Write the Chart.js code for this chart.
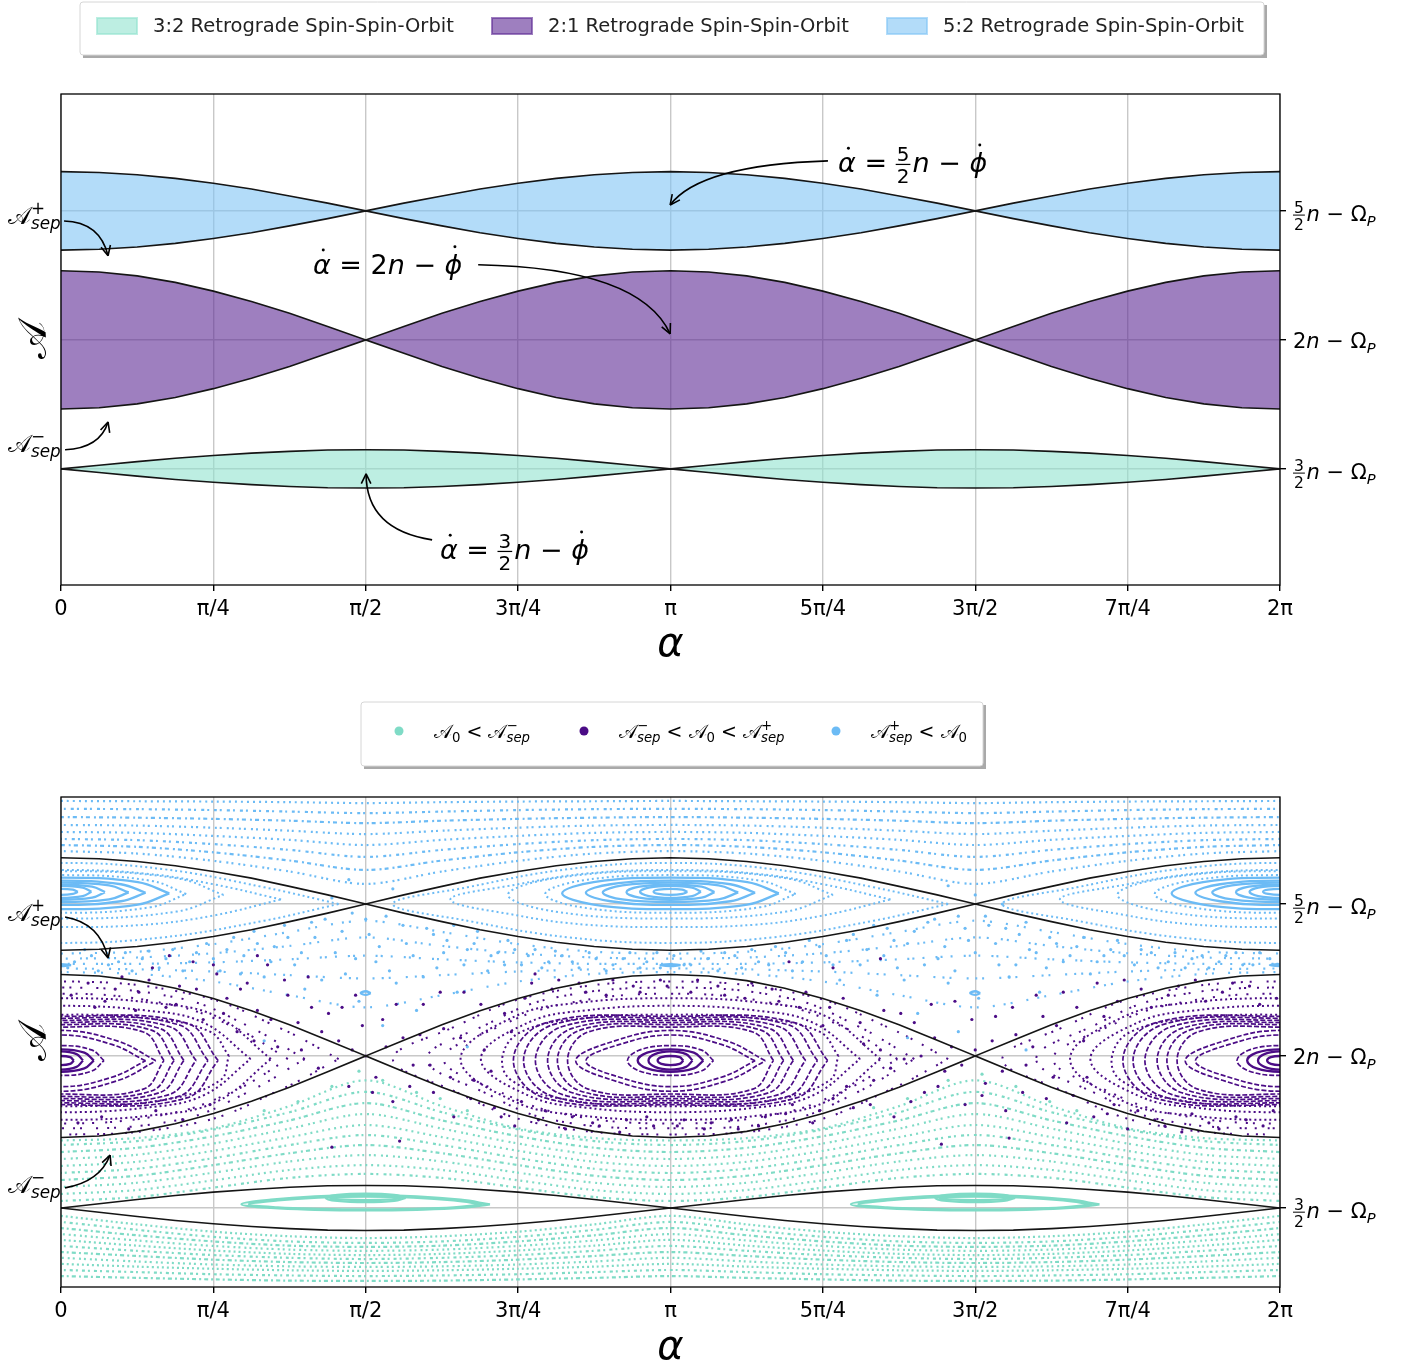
<!DOCTYPE html>
<html lang="en">
<head>
<meta charset="UTF-8">
<title>Retrograde spin-spin-orbit resonances</title>
<script src="https://cdn.jsdelivr.net/npm/chart.js@4.4.1/dist/chart.umd.min.js"></script>
<style>
  body { margin: 0; background: #fff; }
  #wrapTop { position: absolute; left: 0; top: 0; width: 1418px; height: 670px; }
  #wrapBottom { position: absolute; left: 0; top: 670px; width: 1418px; height: 695px; }
</style>
</head>
<body>
<div id="wrapTop"><canvas id="topChart"></canvas></div>
<div id="wrapBottom"><canvas id="bottomChart"></canvas></div>
<script>
const FONT = "'DejaVu Sans', sans-serif";

// alpha in degrees, labelled in multiples of pi
const xTickVals = [0, 45, 90, 135, 180, 225, 270, 315, 360];
const xTickLabels = ['0', 'π/4', 'π/2', '3π/4', 'π', '5π/4', '3π/2', '7π/4', '2π'];
const yTickVals = [1.5, 2, 2.5];
const yTickLabels = ['3/2', '2', '5/2'];

// separatrices of the three resonances (A in units of n)
const alphaGrid = [0, 11.25, 22.5, 33.75, 45, 56.25, 67.5, 78.75, 90, 101.25, 112.5, 123.75, 135, 146.25, 157.5, 168.75, 180,
  191.25, 202.5, 213.75, 225, 236.25, 247.5, 258.75, 270, 281.25, 292.5, 303.75, 315, 326.25, 337.5, 348.75, 360];
const sep32Lower = [1.500,1.486,1.472,1.459,1.448,1.439,1.432,1.427,1.426,1.427,1.432,1.439,1.448,1.459,1.472,1.486,1.500,1.486,1.472,1.459,1.448,1.439,1.432,1.427,1.426,1.427,1.432,1.439,1.448,1.459,1.472,1.486,1.500];
const sep32Upper = [1.500,1.514,1.528,1.541,1.552,1.561,1.568,1.573,1.574,1.573,1.568,1.561,1.552,1.541,1.528,1.514,1.500,1.514,1.528,1.541,1.552,1.561,1.568,1.573,1.574,1.573,1.568,1.561,1.552,1.541,1.528,1.514,1.500];
const sep21Lower = [1.732,1.737,1.752,1.777,1.811,1.851,1.897,1.948,2.000,1.948,1.897,1.851,1.811,1.777,1.752,1.737,1.732,1.737,1.752,1.777,1.811,1.851,1.897,1.948,2.000,1.948,1.897,1.851,1.811,1.777,1.752,1.737,1.732];
const sep21Upper = [2.268,2.263,2.248,2.223,2.189,2.149,2.103,2.052,2.000,2.052,2.103,2.149,2.189,2.223,2.248,2.263,2.268,2.263,2.248,2.223,2.189,2.149,2.103,2.052,2.000,2.052,2.103,2.149,2.189,2.223,2.248,2.263,2.268];
const sep52Lower = [2.348,2.351,2.360,2.374,2.393,2.415,2.442,2.470,2.500,2.470,2.442,2.415,2.393,2.374,2.360,2.351,2.348,2.351,2.360,2.374,2.393,2.415,2.442,2.470,2.500,2.470,2.442,2.415,2.393,2.374,2.360,2.351,2.348];
const sep52Upper = [2.652,2.649,2.640,2.626,2.607,2.585,2.558,2.530,2.500,2.530,2.558,2.585,2.607,2.626,2.640,2.649,2.652,2.649,2.640,2.626,2.607,2.585,2.558,2.530,2.500,2.530,2.558,2.585,2.607,2.626,2.640,2.649,2.652];
const bandNames = ['3:2 Retrograde Spin-Spin-Orbit', '2:1 Retrograde Spin-Spin-Orbit', '5:2 Retrograde Spin-Spin-Orbit'];

// Poincare section. Curves are pi-periodic in alpha.
const rowAlpha = [0, 22.5, 45, 67.5, 90, 112.5, 135, 157.5, 180];
const blueRows = [
  [2.839,2.838,2.837,2.835,2.832,2.835,2.837,2.838,2.839],
  [2.813,2.812,2.809,2.804,2.799,2.804,2.809,2.812,2.813],
  [2.786,2.784,2.780,2.774,2.766,2.774,2.780,2.784,2.786],
  [2.760,2.758,2.751,2.741,2.730,2.741,2.751,2.758,2.760],
  [2.737,2.734,2.724,2.711,2.694,2.711,2.724,2.734,2.737],
  [2.714,2.710,2.697,2.678,2.655,2.678,2.697,2.710,2.714],
  [2.694,2.688,2.670,2.643,2.612,2.643,2.670,2.688,2.694],
  [2.674,2.666,2.642,2.607,2.566,2.607,2.642,2.666,2.674]
];
// chaotic layer between the 5:2 and 2:1 separatrices
const blueChaosRows = [
  [2.337,2.343,2.368,2.408,2.445,2.408,2.368,2.343,2.337],
  [2.320,2.324,2.338,2.362,2.390,2.362,2.338,2.324,2.320],
  [2.303,2.303,2.308,2.318,2.330,2.318,2.308,2.303,2.303],
  [2.288,2.285,2.278,2.266,2.255,2.266,2.278,2.285,2.288],
  [2.276,2.270,2.245,2.200,2.160,2.200,2.245,2.270,2.276]
];
const tealMidRows = [
  [1.722,1.730,1.762,1.835,1.920,1.835,1.762,1.730,1.722],
  [1.707,1.720,1.758,1.815,1.882,1.815,1.758,1.720,1.707],
  [1.684,1.698,1.736,1.788,1.845,1.788,1.736,1.698,1.684],
  [1.661,1.675,1.712,1.761,1.809,1.761,1.712,1.675,1.661],
  [1.638,1.652,1.688,1.733,1.773,1.733,1.688,1.652,1.638],
  [1.615,1.629,1.664,1.707,1.740,1.707,1.664,1.629,1.615],
  [1.592,1.606,1.641,1.680,1.707,1.680,1.641,1.606,1.592],
  [1.569,1.583,1.616,1.653,1.674,1.653,1.616,1.583,1.569],
  [1.546,1.559,1.591,1.625,1.641,1.625,1.591,1.559,1.546],
  [1.523,1.536,1.567,1.599,1.612,1.599,1.567,1.536,1.523]
];
const tealLowRows = [
  [1.474,1.446,1.422,1.407,1.401,1.407,1.422,1.446,1.474],
  [1.454,1.428,1.405,1.390,1.385,1.390,1.405,1.428,1.454],
  [1.434,1.410,1.390,1.376,1.372,1.376,1.390,1.410,1.434],
  [1.414,1.393,1.375,1.363,1.359,1.363,1.375,1.393,1.414],
  [1.395,1.376,1.360,1.349,1.345,1.349,1.360,1.376,1.395],
  [1.375,1.359,1.345,1.336,1.332,1.336,1.345,1.359,1.375],
  [1.355,1.342,1.330,1.322,1.319,1.322,1.330,1.342,1.355],
  [1.336,1.324,1.314,1.308,1.306,1.308,1.314,1.324,1.336],
  [1.316,1.307,1.300,1.295,1.293,1.295,1.300,1.307,1.316],
  [1.296,1.289,1.282,1.278,1.276,1.278,1.282,1.289,1.296],
  [1.276,1.270,1.265,1.261,1.260,1.261,1.265,1.270,1.276]
];

// island orbits around alpha = pi (5:2 and 2:1) and alpha = pi/2 (3:2)
const blueRings = [
  [[185,2.540],[183.5,2.547],[180,2.550],[176.5,2.547],[175,2.540],[176.5,2.533],[180,2.530],[183.5,2.533]],
  [[189,2.540],[186.4,2.554],[180,2.560],[173.6,2.554],[171,2.540],[173.6,2.526],[180,2.520],[186.4,2.526]],
  [[193,2.539],[189.2,2.557],[180,2.564],[170.8,2.557],[167,2.539],[170.8,2.521],[180,2.514],[189.2,2.521]],
  [[200,2.538],[194.2,2.561],[180,2.570],[165.8,2.561],[160,2.538],[165.8,2.515],[180,2.506],[194.2,2.515]],
  [[205,2.537],[197.7,2.565],[180,2.577],[162.3,2.565],[155,2.537],[162.3,2.509],[180,2.497],[197.7,2.509]],
  [[212,2.535],[202.7,2.572],[180,2.587],[157.3,2.572],[148,2.535],[157.3,2.498],[180,2.483],[202.7,2.498]],
  [[217,2.533],[206.3,2.577],[180,2.595],[153.7,2.577],[143,2.533],[153.7,2.489],[180,2.471],[206.3,2.489]],
  [[228,2.530],[214.1,2.585],[180,2.608],[145.9,2.585],[132,2.530],[145.9,2.475],[180,2.452],[214.1,2.475]],
  [[245,2.515],[225,2.565],[205,2.600],[180,2.612],[155,2.600],[135,2.565],[115,2.515],[135,2.462],[155,2.432],[180,2.424],[205,2.432],[225,2.462]],
  [[262,2.500],[240,2.555],[210,2.615],[180,2.635],[150,2.615],[120,2.555],[98,2.500],[120,2.445],[150,2.390],[180,2.372],[210,2.390],[240,2.445]]
];
const purpleRings = [
  [[183.8,1.985],[182.7,1.996],[180,2.000],[177.3,1.996],[176.2,1.985],[177.3,1.974],[180,1.970],[182.7,1.974]],
  [[186.5,1.985],[184.6,2.006],[180,2.015],[175.4,2.006],[173.5,1.985],[175.4,1.964],[180,1.955],[184.6,1.964]],
  [[189.7,1.985],[186.9,2.011],[180,2.022],[173.1,2.011],[170.3,1.985],[173.1,1.959],[180,1.948],[186.9,1.959]],
  [[192.7,1.985],[189,2.020],[180,2.034],[171,2.020],[167.3,1.985],[171,1.950],[180,1.936],[189,1.950]],
  [[205,1.984],[195,2.038],[180,2.069],[165,2.038],[155,1.984],[165,1.930],[180,1.899],[195,1.930]],
  [[208,1.984],[197,2.048],[180,2.084],[163,2.048],[152,1.984],[163,1.920],[180,1.884],[197,1.920]],
  [[210.4,1.985],[204.3,2.079],[180,2.095],[155.7,2.079],[149.6,1.985],[155.7,1.891],[180,1.875],[204.3,1.891]],
  [[213.4,1.985],[206.7,2.085],[180,2.103],[153.3,2.085],[146.6,1.985],[153.3,1.885],[180,1.867],[206.7,1.885]],
  [[216.3,1.985],[209,2.091],[180,2.110],[151,2.091],[143.7,1.985],[151,1.879],[180,1.860],[209,1.879]],
  [[219.9,1.985],[211.9,2.097],[180,2.117],[148.1,2.097],[140.1,1.985],[148.1,1.873],[180,1.853],[211.9,1.873]],
  [[223.4,1.985],[214.7,2.103],[180,2.124],[145.3,2.103],[136.6,1.985],[145.3,1.867],[180,1.846],[214.7,1.867]],
  [[226.4,1.985],[217.1,2.108],[180,2.130],[142.9,2.108],[133.6,1.985],[142.9,1.862],[180,1.840],[217.1,1.862]],
  [[229.6,2.000],[224,2.080],[205,2.125],[180,2.136],[155,2.125],[136,2.080],[130.4,2.000],[133,1.920],[150,1.855],[180,1.835],[210,1.855],[227,1.920]],
  [[236,1.990],[222,2.110],[205,2.150],[180,2.165],[155,2.150],[138,2.110],[124,1.990],[138,1.870],[155,1.830],[180,1.815],[205,1.830],[222,1.870]],
  [[242,1.990],[226,2.130],[207,2.175],[180,2.190],[153,2.175],[134,2.130],[118,1.990],[134,1.850],[153,1.805],[180,1.790],[207,1.805],[226,1.850]]
];
// chaotic layer just inside the 2:1 separatrix
const purpleChaosRings = [
  [[252,1.990],[235,2.100],[215,2.190],[180,2.225],[145,2.190],[125,2.100],[108,1.990],[125,1.880],[145,1.790],[180,1.762],[215,1.790],[235,1.880]],
  [[262,1.990],[245,2.090],[220,2.200],[180,2.245],[140,2.200],[115,2.090],[98,1.990],[115,1.890],[140,1.780],[180,1.742],[220,1.780],[245,1.890]],
  [[247,1.990],[232,2.090],[212,2.170],[180,2.205],[148,2.170],[128,2.090],[113,1.990],[128,1.890],[148,1.810],[180,1.778],[212,1.810],[232,1.890]]
];
const tealRings = [
  [[101.8,1.533],[98.4,1.543],[90,1.547],[81.6,1.543],[78.2,1.533],[81.6,1.523],[90,1.519],[98.4,1.523]],
  [[100.5,1.533],[97.5,1.538],[90,1.540],[82.5,1.538],[79.5,1.533],[82.5,1.528],[90,1.526],[97.5,1.528]],
  [[126.7,1.512],[118,1.527],[105,1.538],[90,1.542],[75,1.538],[62,1.527],[53.3,1.512],[62,1.500],[75,1.494],[90,1.492],[105,1.494],[118,1.500]],
  [[124.5,1.512],[116,1.525],[104,1.534],[90,1.537],[76,1.534],[64,1.525],[55.5,1.512],[64,1.502],[76,1.497],[90,1.495],[104,1.497],[116,1.502]]
];
// small secondary islands of the blue orbits
const blueSmallIslands = [
  [[183,2.299],[180,2.302],[177,2.299],[180,2.296]],
  [[91.5,2.207],[90,2.213],[88.5,2.207],[90,2.201]]
];

// chaotic orbits (scattered points)
const blueChaos = [[4,2.31],[9,2.33],[14,2.30],[19,2.34],[24,2.32],[29,2.29],[33,2.35],[38,2.31],[43,2.37],[47,2.28],
  [51,2.39],[54,2.33],[57,2.41],[60,2.26],[63,2.36],[66,2.43],[69,2.30],[72,2.22],[75,2.39],[78,2.45],
  [81,2.34],[84,2.27],[86,2.47],[88,2.18],[91,2.40],[93,2.31],[96,2.46],[99,2.24],[102,2.37],[105,2.15],
  [108,2.42],[111,2.29],[114,2.38],[117,2.21],[120,2.35],[123,2.41],[126,2.28],[129,2.34],[132,2.38],[136,2.30],
  [140,2.35],[144,2.31],[148,2.33],[153,2.29],[158,2.32],[163,2.30],[168,2.34],[173,2.31],[177,2.29],[181,2.33],
  [186,2.30],[191,2.32],[196,2.34],[201,2.29],[206,2.31],[211,2.36],[216,2.28],[221,2.38],[226,2.33],[230,2.25],
  [234,2.40],[238,2.35],[241,2.20],[244,2.42],[247,2.29],[250,2.37],[253,2.14],[256,2.44],[259,2.32],[262,2.24],
  [265,2.46],[268,2.38],[271,2.19],[274,2.43],[277,2.30],[280,2.26],[283,2.40],[286,2.35],[289,2.21],[292,2.39],
  [296,2.31],[300,2.36],[304,2.27],[308,2.33],[312,2.38],[317,2.30],[322,2.34],[327,2.31],[332,2.29],[337,2.33],
  [342,2.31],[347,2.34],[352,2.30],[357,2.32],[80,2.52],[98,2.55],[85,2.58],[270,2.53],[262,2.56],[278,2.50],
  [95,2.10],[265,2.08],[60,2.05],[120,2.03],[250,2.06],[285,2.02],
  [2,2.29],[7,2.35],[11,2.28],[17,2.31],[21,2.28],[26,2.345],[31,2.32],[36,2.28],[40,2.34],[45,2.32],
  [49,2.35],[53,2.27],[58,2.37],[62,2.31],[67,2.39],[71,2.34],[74,2.44],[77,2.25],[83,2.41],[87,2.32],
  [90,2.45],[94,2.36],[97,2.28],[101,2.43],[104,2.33],[107,2.26],[110,2.40],[113,2.34],[116,2.43],[119,2.30],
  [122,2.37],[127,2.33],[131,2.30],[134,2.35],[138,2.33],[142,2.29],[146,2.345],[151,2.31],[156,2.34],[161,2.28],
  [166,2.32],[171,2.29],[176,2.34],[184,2.30],[189,2.345],[194,2.28],[199,2.33],[204,2.35],[209,2.30],[214,2.34],
  [219,2.31],[224,2.36],[228,2.30],[232,2.38],[236,2.30],[240,2.43],[243,2.33],[246,2.38],[249,2.25],[252,2.41],
  [255,2.30],[258,2.45],[261,2.36],[264,2.28],[267,2.42],[270,2.34],[273,2.46],[276,2.37],[279,2.42],[282,2.30],
  [285,2.44],[288,2.34],[291,2.29],[294,2.37],[298,2.33],[302,2.39],[306,2.31],[310,2.35],[314,2.33],[319,2.35],
  [324,2.29],[329,2.34],[334,2.32],[339,2.29],[344,2.33],[349,2.30],[354,2.34],[359,2.30]];
const purpleChaos = [[3,2.20],[8,2.24],[13,2.18],[18,2.26],[23,2.21],[27,2.29],[31,2.16],[35,2.23],[39,2.31],[42,2.12],
  [46,2.27],[49,2.19],[52,2.08],[55,2.24],[58,2.15],[61,2.30],[64,2.03],[67,2.20],[70,2.11],[73,2.26],
  [76,1.96],[79,2.14],[82,2.05],[85,1.90],[87,2.20],[90,2.00],[93,1.93],[95,2.12],[98,1.85],[101,2.06],
  [104,1.97],[107,2.17],[110,1.88],[113,2.09],[116,1.80],[119,2.21],[122,1.92],[125,2.02],[128,1.83],[131,2.14],
  [134,1.77],[137,2.19],[141,1.79],[145,2.22],[149,1.76],[153,2.24],[157,1.78],[161,2.20],[165,1.75],[169,2.23],
  [173,1.80],[177,2.25],[182,1.77],[186,2.21],[190,1.76],[194,2.23],[198,1.79],[202,2.19],[206,1.77],[210,2.22],
  [214,1.81],[218,2.16],[222,1.78],[225,2.10],[228,1.86],[231,2.19],[234,1.83],[237,2.04],[240,1.92],[243,2.15],
  [246,1.80],[249,1.99],[252,2.11],[255,1.88],[258,2.06],[261,1.95],[264,2.18],[267,1.84],[270,2.02],[273,1.91],
  [276,2.13],[279,1.82],[282,2.07],[285,1.97],[288,2.20],[291,1.86],[294,2.10],[297,1.78],[300,2.16],[303,1.93],
  [306,2.24],[309,1.81],[312,2.18],[315,1.76],[319,2.22],[323,1.79],[327,2.20],[331,1.75],[335,2.25],[339,1.78],
  [343,2.21],[347,1.80],[351,2.23],[355,1.77],[359,2.19],[5,1.78],[12,1.80],[20,1.76],[28,1.82],[36,1.79],
  [44,1.84],[140,2.27],[32,2.33],[45,2.30],[58,2.33],[215,2.31],[228,2.29],[242,2.32],[100,1.72],[80,1.70],
  [260,1.71],[280,1.73],
  [10,2.16],[16,2.22],[22,2.15],[26,2.25],[34,2.17],[40,2.22],[48,2.14],[53,2.22],[57,2.05],[62,2.12],
  [66,2.25],[71,2.02],[74,2.16],[77,2.08],[83,2.16],[86,2.02],[89,2.10],[92,1.88],[96,2.03],[99,2.17],
  [103,1.90],[106,2.07],[109,1.97],[112,2.21],[115,1.93],[118,2.06],[121,1.86],[124,2.17],[127,1.95],[130,1.80],
  [133,2.08],[136,1.85],[139,2.24],[143,1.82],[147,2.25],[151,1.80],[155,2.21],[159,1.77],[163,2.25],[167,1.79],
  [171,2.21],[175,1.77],[179,2.23],[184,1.79],[188,2.25],[192,1.78],[196,2.20],[200,1.76],[204,2.24],[208,1.80],
  [212,2.18],[216,1.84],[220,2.21],[224,1.82],[227,2.16],[232,1.90],[236,2.11],[239,1.84],[242,2.02],[245,1.96],
  [248,2.14],[251,1.85],[254,2.00],[257,2.17],[259,1.90],[263,2.03],[266,1.97],[269,2.12],[272,1.87],[275,2.05],
  [278,1.95],[281,2.16],[284,1.88],[287,2.03],[290,2.13],[293,1.93],[296,2.21],[299,1.87],[302,2.05],[305,1.80],
  [308,2.13],[311,1.84],[314,2.25],[318,1.82],[322,2.16],[326,1.77],[330,2.23],[334,1.81],[338,2.18],[342,1.76],
  [346,2.24],[350,1.79],[354,2.17],[358,1.82]];
const tealChaos = [[70,1.85],[80,1.90],[88,1.95],[95,1.92],[105,1.88],[112,1.86],[250,1.86],[262,1.92],[272,1.94],
  [282,1.90],[292,1.85],[60,1.82],[120,1.82],[240,1.83],[300,1.82]];

const C_TEAL = '#7fdbc6', C_PURPLE = '#4b0c86', C_BLUE = '#6cbbf5';
const FILL_TEAL = 'rgba(145,227,207,0.6)';
const FILL_PURPLE = 'rgba(93,42,148,0.6)';
const FILL_BLUE = 'rgba(128,197,245,0.6)';

// ---------- math text helper ----------
function drawMath(ctx, toks, x, y, size) {
  let cx = x;
  ctx.save();
  ctx.textBaseline = 'alphabetic';
  ctx.textAlign = 'left';
  ctx.fillStyle = '#000';
  for (const t of toks) {
    if (t.f) {
      const fs = size * 0.74;
      ctx.font = fs + 'px ' + FONT;
      const w = Math.max(ctx.measureText(t.f[0]).width, ctx.measureText(t.f[1]).width) + 2;
      ctx.textAlign = 'center';
      ctx.fillText(t.f[0], cx + w / 2, y - size * 0.39);
      ctx.fillText(t.f[1], cx + w / 2, y + size * 0.42);
      ctx.fillRect(cx, y - size * 0.3, w, Math.max(1, size * 0.045));
      ctx.textAlign = 'left';
      cx += w + size * 0.08;
    } else if (t.sub !== undefined || t.sup !== undefined) {
      const fs = size * 0.7;
      let w = 0;
      if (t.sup) {
        ctx.font = fs + 'px ' + FONT;
        w = Math.max(w, ctx.measureText(t.sup).width);
        ctx.fillText(t.sup, cx, y - size * 0.42);
      }
      if (t.sub) {
        ctx.font = (t.si ? 'italic ' : '') + fs + 'px ' + FONT;
        w = Math.max(w, ctx.measureText(t.sub).width);
        ctx.fillText(t.sub, cx, y + size * 0.22);
      }
      cx += w;
    } else {
      ctx.font = (t.i ? 'italic ' : '') + size + 'px ' + FONT;
      const w = ctx.measureText(t.s).width;
      ctx.fillText(t.s, cx, y);
      if (t.dot) {
        ctx.beginPath();
        ctx.arc(cx + w * 0.58, y - size * t.dot, size * 0.055, 0, Math.PI * 2);
        ctx.fill();
      }
      cx += w;
    }
  }
  ctx.restore();
  return cx - x;
}

const SCRIPT_A = '𝒜';
const aSep = sign => [{ s: SCRIPT_A }, { sub: 'sep', si: true, sup: sign }];
const resonanceText = frac => [{ s: 'α', i: true, dot: 0.88 }, { s: ' = ' }].concat(
  frac.includes('/') ? [{ f: frac.split('/') }] : [{ s: frac }],
  [{ s: 'n', i: true }, { s: ' − ' }, { s: 'ϕ', i: true, dot: 1.0 }]);
const tickTokens = lab => (lab.includes('/') ? [{ f: lab.split('/') }] : [{ s: lab }])
  .concat([{ s: 'n', i: true }, { s: ' − Ω' }, { sub: 'P', si: true }]);

// ---------- decorations (frame, right labels, axis titles, arrows, legends) ----------
function arrow(ctx, chart, a) {
  const X = v => chart.scales.x.getPixelForValue(v);
  const Y = v => chart.scales.y.getPixelForValue(v);
  const p0 = [X(a.from[0]), Y(a.from[1])], pc = [X(a.via[0]), Y(a.via[1])], p1 = [X(a.to[0]), Y(a.to[1])];
  ctx.save();
  ctx.strokeStyle = '#000';
  ctx.lineWidth = 1.6;
  ctx.beginPath();
  ctx.moveTo(p0[0], p0[1]);
  ctx.quadraticCurveTo(pc[0], pc[1], p1[0], p1[1]);
  ctx.stroke();
  const ang = Math.atan2(p1[1] - pc[1], p1[0] - pc[0]);
  ctx.beginPath();
  for (const d of [-0.45, 0.45]) {
    ctx.moveTo(p1[0], p1[1]);
    ctx.lineTo(p1[0] - 11 * Math.cos(ang + d), p1[1] - 11 * Math.sin(ang + d));
  }
  ctx.stroke();
  ctx.restore();
  if (a.tokens) drawMath(ctx, a.tokens, X(a.at[0]), Y(a.at[1]), a.size);
}

const decor = {
  id: 'decor',
  afterDraw(chart, args, opts) {
    const ctx = chart.ctx, area = chart.chartArea;
    // frame
    ctx.save();
    ctx.strokeStyle = '#000';
    ctx.lineWidth = 1.3;
    ctx.strokeRect(area.left, area.top, area.right - area.left, area.bottom - area.top);
    ctx.restore();
    // right tick labels
    yTickVals.forEach((v, i) => {
      const py = chart.scales.y.getPixelForValue(v);
      const lab = yTickLabels[i];
      drawMath(ctx, tickTokens(lab), area.right + 13, py + (lab.includes('/') ? 10 : 8), 21);
    });
    // axis titles
    ctx.save();
    ctx.fillStyle = '#000';
    ctx.textAlign = 'center';
    ctx.font = 'italic 40px ' + FONT;
    ctx.fillText('α', (area.left + area.right) / 2, area.bottom + opts.xTitleGap);
    ctx.translate(36, (area.top + area.bottom) / 2);
    ctx.rotate(-Math.PI / 2);
    ctx.textBaseline = 'middle';
    ctx.font = '40px ' + FONT;
    ctx.fillText(SCRIPT_A, 0, 0);
    ctx.restore();
    // annotations
    opts.annotations.forEach(a => arrow(ctx, chart, a));
    // legend box
    const L = opts.legend;
    ctx.save();
    ctx.fillStyle = '#a9a9a9';
    ctx.fillRect(L.x + 3, L.y + 3, L.w, L.h);
    ctx.fillStyle = '#fff';
    ctx.strokeStyle = '#d6d6d6';
    ctx.lineWidth = 1;
    ctx.beginPath();
    ctx.roundRect(L.x, L.y, L.w, L.h, 3);
    ctx.fill();
    ctx.stroke();
    const items = chart.data.datasets.filter(d => d.label);
    items.forEach((d, i) => {
      const ix = L.itemX[i], cy = L.y + L.itemY;
      if (L.kind === 'patch') {
        ctx.fillStyle = d.backgroundColor;
        ctx.strokeStyle = d.backgroundColor;
        ctx.lineWidth = 2;
        ctx.fillRect(ix, cy - 8, 40, 16);
        ctx.strokeRect(ix, cy - 8, 40, 16);
        ctx.fillStyle = '#222';
        ctx.font = '19.5px ' + FONT;
        ctx.textBaseline = 'middle';
        ctx.fillText(d.label, ix + 56, cy + 1);
      } else {
        ctx.fillStyle = d.pointBackgroundColor;
        ctx.beginPath();
        ctx.arc(ix, cy, 4.5, 0, Math.PI * 2);
        ctx.fill();
        drawMath(ctx, L.tokens[i], ix + 35, cy + 7, 19);
      }
    });
    ctx.restore();
  }
};

// ---------- shared scale options ----------
function scalesFor(yMin, yMax, xHeight) {
  const grid = { color: '#c8c8c8', lineWidth: 1.4, tickColor: '#000', tickLength: 6, drawTicks: true };
  return {
    x: {
      type: 'linear', min: 0, max: 360,
      afterBuildTicks: s => { s.ticks = xTickVals.map(v => ({ value: v })); },
      afterFit: s => { s.height = xHeight; },
      ticks: { callback: (v, i) => xTickLabels[i], color: '#000', font: { family: FONT, size: 21 }, padding: 6, maxRotation: 0, autoSkip: false },
      grid: grid, border: { display: false }
    },
    y: {
      type: 'linear', position: 'right', min: yMin, max: yMax,
      afterBuildTicks: s => { s.ticks = yTickVals.map(v => ({ value: v })); },
      afterFit: s => { s.width = 138; },
      ticks: { callback: () => '' },
      grid: grid, border: { display: false }
    }
  };
}
const curve = (ys, extra) => Object.assign({
  data: alphaGrid.map((a, i) => ({ x: a, y: ys[i] })),
  borderColor: '#151515', borderWidth: 1.6, pointRadius: 0, tension: 0, fill: false, order: 0
}, extra);

// ---------- top chart: resonance widths ----------
new Chart(document.getElementById('topChart'), {
  type: 'line',
  data: {
    datasets: [
      curve(sep32Lower),
      curve(sep32Upper, { label: bandNames[0], fill: '-1', backgroundColor: FILL_TEAL }),
      curve(sep21Lower),
      curve(sep21Upper, { label: bandNames[1], fill: '-1', backgroundColor: FILL_PURPLE }),
      curve(sep52Lower),
      curve(sep52Upper, { label: bandNames[2], fill: '-1', backgroundColor: FILL_BLUE })
    ]
  },
  options: {
    responsive: true, maintainAspectRatio: false, animation: false,
    layout: { padding: { top: 94, left: 61, right: 0, bottom: 0 } },
    plugins: {
      legend: { display: false }, tooltip: { enabled: false },
      decor: {
        xTitleGap: 71,
        legend: { kind: 'patch', x: 80, y: 2, w: 1184, h: 53, itemY: 24, itemX: [97, 492, 887] },
        annotations: [
          { tokens: resonanceText('5/2'), size: 27, at: [229.5, 2.651], from: [226.5, 2.694], via: [188.7, 2.678], to: [179.9, 2.523] },
          { tokens: resonanceText('2'), size: 27, at: [74.4, 2.256], from: [123.2, 2.291], via: [171, 2.279], to: [179.9, 2.023] },
          { tokens: resonanceText('3/2'), size: 27, at: [111.9, 1.151], from: [109.6, 1.225], via: [90.1, 1.264], to: [90.1, 1.481] },
          { tokens: aSep('+'), size: 24, at: [-15.65, 2.450], from: [0.9, 2.461], via: [11.5, 2.457], to: [13.9, 2.326] },
          { tokens: aSep('−'), size: 24, at: [-15.65, 1.566], from: [1.2, 1.574], via: [11.5, 1.581], to: [13.9, 1.682] }
        ]
      }
    },
    scales: scalesFor(1.050, 2.953, 85)
  },
  plugins: [decor]
});

// ---------- bottom chart: Poincare section ----------
const islandShifts = [-180, 0, 180];
const bottomSets = [sep32Lower, sep32Upper, sep21Lower, sep21Upper, sep52Lower, sep52Upper].map(s => curve(s));
const chaosDashes = [[2, 9, 2, 5, 2, 14], [2, 6, 2, 12, 2, 4], [2, 11, 2, 3, 2, 8], [2, 5, 2, 15, 2, 7]];

// solidTo: rings drawn as continuous lines; dashTo: rings drawn with long dashes; the rest dotted
function ringSets(rings, color, shifts, solidTo, dashTo, dashes) {
  rings.forEach((ring, i) => {
    shifts.forEach((sh, k) => {
      let dash = i < solidTo ? [] : (i < dashTo ? [5, 2] : [2, 3]);
      if (dashes) dash = dashes[(i + k) % dashes.length];
      bottomSets.push({
        data: ring.concat([ring[0]]).map(p => ({ x: p[0] + sh, y: p[1] })),
        borderColor: color,
        borderWidth: i < solidTo ? 2.3 : (i < dashTo ? 1.7 : 2),
        borderDash: dash,
        tension: 0.4, pointRadius: 0, fill: false, order: 2
      });
    });
  });
}
function rowSets(rows, color, dashes) {
  const xs = rowAlpha.concat(rowAlpha.slice(1).map(a => a + 180));
  rows.forEach((r, i) => {
    const ys = r.concat(r.slice(1));
    bottomSets.push({
      data: xs.map((x, j) => ({ x: x, y: ys[j] })),
      borderColor: color, borderWidth: 2.2,
      borderDash: dashes ? dashes[i % dashes.length] : [2, 4],
      borderDashOffset: i * 3,
      tension: 0.3, pointRadius: 0, fill: false, order: 3
    });
  });
}
const chaosSet = (pts, color, label) => ({
  label: label,
  data: pts.map(p => ({ x: p[0], y: p[1] })),
  showLine: false, pointRadius: 1.6, pointBorderWidth: 0,
  pointBackgroundColor: color, backgroundColor: color, order: 1
});

rowSets(blueRows, C_BLUE, [[2, 4], [3, 3, 2, 5], [2, 3, 4, 4], [2, 5, 2, 3]]);
rowSets(blueChaosRows, C_BLUE, chaosDashes);
rowSets(tealMidRows, C_TEAL, [[2, 4], [3, 3, 2, 5], [2, 3, 4, 4], [2, 5, 2, 3]]);
rowSets(tealLowRows, C_TEAL, [[2, 3], [3, 3, 2, 4], [2, 3, 4, 3], [2, 4, 2, 3]]);
ringSets(blueRings, C_BLUE, islandShifts, 6, 6);
ringSets(purpleRings, C_PURPLE, islandShifts, 3, 12);
ringSets(purpleChaosRings, C_PURPLE, islandShifts, 0, 0, chaosDashes);
ringSets(tealRings, C_TEAL, [0, 180], 4, 4);
ringSets(blueSmallIslands.slice(0, 1), C_BLUE, islandShifts, 2, 2);
ringSets(blueSmallIslands.slice(1), C_BLUE, [0, 180], 2, 2);
bottomSets.push(chaosSet(tealChaos, C_TEAL, 'A0 < A-sep'));
bottomSets.push(chaosSet(purpleChaos, C_PURPLE, 'A-sep < A0 < A+sep'));
bottomSets.push(chaosSet(blueChaos, C_BLUE, 'A+sep < A0'));

new Chart(document.getElementById('bottomChart'), {
  type: 'line',
  data: { datasets: bottomSets },
  options: {
    responsive: true, maintainAspectRatio: false, animation: false,
    layout: { padding: { top: 127, left: 61, right: 0, bottom: 0 } },
    elements: { line: { capBezierPoints: false } },
    plugins: {
      legend: { display: false }, tooltip: { enabled: false },
      decor: {
        xTitleGap: 72,
        legend: {
          kind: 'dot', x: 361, y: 32, w: 622, h: 64, itemY: 29, itemX: [399, 584, 836],
          tokens: [
            [{ s: SCRIPT_A }, { sub: '0' }, { s: ' < ' + SCRIPT_A }, { sub: 'sep', si: true, sup: '−' }],
            [{ s: SCRIPT_A }, { sub: 'sep', si: true, sup: '−' }, { s: ' < ' + SCRIPT_A }, { sub: '0' }, { s: ' < ' + SCRIPT_A }, { sub: 'sep', si: true, sup: '+' }],
            [{ s: SCRIPT_A }, { sub: 'sep', si: true, sup: '+' }, { s: ' < ' + SCRIPT_A }, { sub: '0' }]
          ]
        },
        annotations: [
          { tokens: aSep('+'), size: 24, at: [-15.65, 2.444], from: [1.2, 2.457], via: [11.5, 2.4375], to: [13.9, 2.322] },
          { tokens: aSep('−'), size: 24, at: [-15.65, 1.549], from: [1.2, 1.566], via: [11.5, 1.586], to: [14.5, 1.674] }
        ]
      }
    },
    scales: scalesFor(1.240, 2.852, 78)
  },
  plugins: [decor]
});
</script>
</body>
</html>
